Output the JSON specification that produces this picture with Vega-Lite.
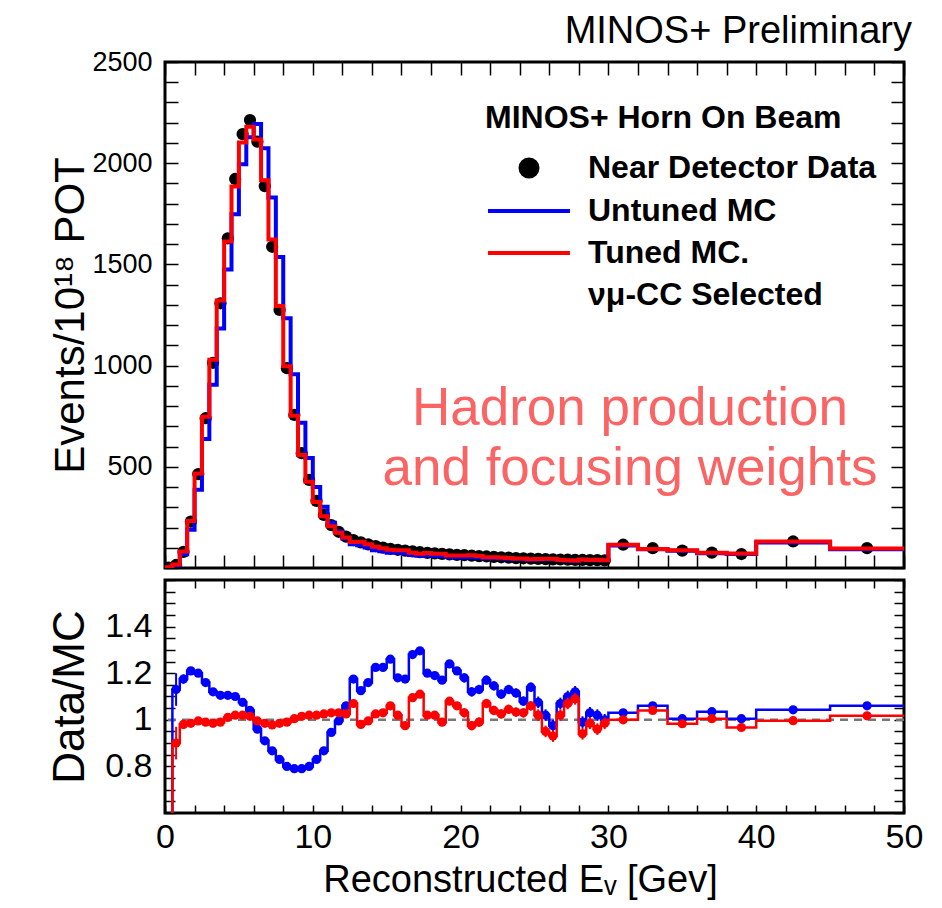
{
  "$schema": "https://vega.github.io/schema/vega-lite/v6.json",
  "autosize": "none",
  "padding": {"left": 165, "top": 62, "right": 777, "bottom": 846},
  "background": "white",
  "spacing": 12,
  "bounds": "flush",
  "datasets": {
    "bins": [
      {"lo":0,"hi":0.5,"c":0.25,"d":2,"u":3.6,"t":4,"rb":0.55,"rr":0.5,"e":0.1},
      {"lo":0.5,"hi":1,"c":0.75,"d":15,"u":13.3,"t":16.7,"rb":1.13,"rr":0.9,"e":0.07},
      {"lo":1,"hi":1.5,"c":1.25,"d":80,"u":68.1,"t":81.6,"rb":1.175,"rr":0.98,"e":0.02},
      {"lo":1.5,"hi":2,"c":1.75,"d":229,"u":189.3,"t":232.5,"rb":1.21,"rr":0.985,"e":0.005},
      {"lo":2,"hi":2.5,"c":2.25,"d":464,"u":386.7,"t":466.3,"rb":1.2,"rr":0.995,"e":0.005},
      {"lo":2.5,"hi":3,"c":2.75,"d":740,"u":637.9,"t":747.5,"rb":1.16,"rr":0.99,"e":0.005},
      {"lo":3,"hi":3.5,"c":3.25,"d":1014,"u":905.4,"t":1029.4,"rb":1.12,"rr":0.985,"e":0.005},
      {"lo":3.5,"hi":4,"c":3.75,"d":1308,"u":1183.7,"t":1321.2,"rb":1.105,"rr":0.99,"e":0.005},
      {"lo":4,"hi":4.5,"c":4.25,"d":1629,"u":1474.2,"t":1612.9,"rb":1.105,"rr":1.01,"e":0.005},
      {"lo":4.5,"hi":5,"c":4.75,"d":1922,"u":1747.3,"t":1884.3,"rb":1.1,"rr":1.02,"e":0.005},
      {"lo":5,"hi":5.5,"c":5.25,"d":2144,"u":1994.4,"t":2102,"rb":1.075,"rr":1.02,"e":0.005},
      {"lo":5.5,"hi":6,"c":5.75,"d":2213,"u":2127.9,"t":2180.3,"rb":1.04,"rr":1.015,"e":0.005},
      {"lo":6,"hi":6.5,"c":6.25,"d":2106,"u":2193.8,"t":2116.6,"rb":0.96,"rr":0.995,"e":0.005},
      {"lo":6.5,"hi":7,"c":6.75,"d":1887,"u":2073.6,"t":1915.7,"rb":0.91,"rr":0.985,"e":0.005},
      {"lo":7,"hi":7.5,"c":7.25,"d":1587,"u":1830.4,"t":1622.7,"rb":0.867,"rr":0.978,"e":0.005},
      {"lo":7.5,"hi":8,"c":7.75,"d":1275,"u":1536.1,"t":1294.4,"rb":0.83,"rr":0.985,"e":0.005},
      {"lo":8,"hi":8.5,"c":8.25,"d":987,"u":1233.8,"t":997,"rb":0.8,"rr":0.99,"e":0.005},
      {"lo":8.5,"hi":9,"c":8.75,"d":756,"u":957,"t":752.2,"rb":0.79,"rr":1.005,"e":0.005},
      {"lo":9,"hi":9.5,"c":9.25,"d":567,"u":717.7,"t":558.6,"rb":0.79,"rr":1.015,"e":0.005},
      {"lo":9.5,"hi":10,"c":9.75,"d":435,"u":543.8,"t":426.5,"rb":0.8,"rr":1.02,"e":0.005},
      {"lo":10,"hi":10.5,"c":10.25,"d":332,"u":400,"t":325.5,"rb":0.83,"rr":1.02,"e":0.005},
      {"lo":10.5,"hi":11,"c":10.75,"d":262,"u":302.2,"t":255.6,"rb":0.867,"rr":1.025,"e":0.005},
      {"lo":11,"hi":11.5,"c":11.25,"d":212,"u":224.1,"t":205.8,"rb":0.946,"rr":1.03,"e":0.005},
      {"lo":11.5,"hi":12,"c":11.75,"d":179,"u":179.9,"t":173.8,"rb":0.995,"rr":1.03,"e":0.01},
      {"lo":12,"hi":12.5,"c":12.25,"d":155,"u":146.2,"t":151.2,"rb":1.06,"rr":1.025,"e":0.015},
      {"lo":12.5,"hi":13,"c":12.75,"d":138,"u":117.4,"t":129,"rb":1.175,"rr":1.07,"e":0.015},
      {"lo":13,"hi":13.5,"c":13.25,"d":127,"u":112.9,"t":129.6,"rb":1.125,"rr":0.98,"e":0.015},
      {"lo":13.5,"hi":14,"c":13.75,"d":117,"u":100.9,"t":117.6,"rb":1.16,"rr":0.995,"e":0.015},
      {"lo":14,"hi":14.5,"c":14.25,"d":108,"u":88.2,"t":105.4,"rb":1.225,"rr":1.025,"e":0.015},
      {"lo":14.5,"hi":15,"c":14.75,"d":101,"u":82.4,"t":98.1,"rb":1.225,"rr":1.03,"e":0.015},
      {"lo":15,"hi":15.5,"c":15.25,"d":95,"u":75.4,"t":89.6,"rb":1.26,"rr":1.06,"e":0.015},
      {"lo":15.5,"hi":16,"c":15.75,"d":90,"u":76.3,"t":88.2,"rb":1.18,"rr":1.02,"e":0.015},
      {"lo":16,"hi":16.5,"c":16.25,"d":86,"u":73.2,"t":88.2,"rb":1.175,"rr":0.975,"e":0.015},
      {"lo":16.5,"hi":17,"c":16.75,"d":82,"u":64.1,"t":74.9,"rb":1.28,"rr":1.095,"e":0.015},
      {"lo":17,"hi":17.5,"c":17.25,"d":78,"u":60.2,"t":70.3,"rb":1.296,"rr":1.11,"e":0.015},
      {"lo":17.5,"hi":18,"c":17.75,"d":75,"u":62.5,"t":73.5,"rb":1.2,"rr":1.02,"e":0.015},
      {"lo":18,"hi":18.5,"c":18.25,"d":72,"u":60.5,"t":70.6,"rb":1.19,"rr":1.02,"e":0.015},
      {"lo":18.5,"hi":19,"c":18.75,"d":70,"u":59.8,"t":70.7,"rb":1.17,"rr":0.99,"e":0.015},
      {"lo":19,"hi":19.5,"c":19.25,"d":67,"u":54,"t":62,"rb":1.24,"rr":1.08,"e":0.015},
      {"lo":19.5,"hi":20,"c":19.75,"d":65,"u":53.7,"t":61.3,"rb":1.21,"rr":1.06,"e":0.015},
      {"lo":20,"hi":20.5,"c":20.25,"d":63,"u":53.4,"t":61.2,"rb":1.18,"rr":1.03,"e":0.02},
      {"lo":20.5,"hi":21,"c":20.75,"d":61,"u":54.5,"t":62.6,"rb":1.12,"rr":0.975,"e":0.02},
      {"lo":21,"hi":21.5,"c":21.25,"d":59,"u":52.2,"t":59.6,"rb":1.13,"rr":0.99,"e":0.02},
      {"lo":21.5,"hi":22,"c":21.75,"d":57,"u":48.7,"t":53.3,"rb":1.17,"rr":1.07,"e":0.02},
      {"lo":22,"hi":22.5,"c":22.25,"d":55,"u":48,"t":52.9,"rb":1.146,"rr":1.04,"e":0.02},
      {"lo":22.5,"hi":23,"c":22.75,"d":53,"u":47.7,"t":51.7,"rb":1.11,"rr":1.025,"e":0.02},
      {"lo":23,"hi":23.5,"c":23.25,"d":51,"u":45.1,"t":48.8,"rb":1.13,"rr":1.045,"e":0.02},
      {"lo":23.5,"hi":24,"c":23.75,"d":49,"u":43.9,"t":47.4,"rb":1.115,"rr":1.033,"e":0.02},
      {"lo":24,"hi":24.5,"c":24.25,"d":48,"u":44.4,"t":46.6,"rb":1.08,"rr":1.03,"e":0.02},
      {"lo":24.5,"hi":25,"c":24.75,"d":46,"u":40.4,"t":43.4,"rb":1.14,"rr":1.06,"e":0.02},
      {"lo":25,"hi":25.5,"c":25.25,"d":45,"u":41.9,"t":44.1,"rb":1.075,"rr":1.02,"e":0.025},
      {"lo":25.5,"hi":26,"c":25.75,"d":44,"u":43.1,"t":46.3,"rb":1.02,"rr":0.95,"e":0.025},
      {"lo":26,"hi":26.5,"c":26.25,"d":43,"u":44.1,"t":46.2,"rb":0.975,"rr":0.93,"e":0.025},
      {"lo":26.5,"hi":27,"c":26.75,"d":42,"u":39.3,"t":41.2,"rb":1.07,"rr":1.02,"e":0.025},
      {"lo":27,"hi":27.5,"c":27.25,"d":41,"u":37.3,"t":38.3,"rb":1.1,"rr":1.07,"e":0.025},
      {"lo":27.5,"hi":28,"c":27.75,"d":40,"u":35.7,"t":36.7,"rb":1.12,"rr":1.09,"e":0.025},
      {"lo":28,"hi":28.5,"c":28.25,"d":40,"u":40.4,"t":42.6,"rb":0.99,"rr":0.94,"e":0.025},
      {"lo":28.5,"hi":29,"c":28.75,"d":39,"u":37.9,"t":39.6,"rb":1.03,"rr":0.985,"e":0.025},
      {"lo":29,"hi":29.5,"c":29.25,"d":39,"u":38.2,"t":40.6,"rb":1.02,"rr":0.96,"e":0.025},
      {"lo":29.5,"hi":30,"c":29.75,"d":38,"u":38,"t":38.6,"rb":1,"rr":0.985,"e":0.025},
      {"lo":30,"hi":32,"c":31,"d":115,"u":111.7,"t":115,"rb":1.03,"rr":1,"e":0.012},
      {"lo":32,"hi":34,"c":33,"d":98,"u":92.5,"t":94.2,"rb":1.06,"rr":1.04,"e":0.012},
      {"lo":34,"hi":36,"c":35,"d":86,"u":85.6,"t":87.5,"rb":1.005,"rr":0.983,"e":0.012},
      {"lo":36,"hi":38,"c":37,"d":76,"u":73.4,"t":75.6,"rb":1.035,"rr":1.005,"e":0.012},
      {"lo":38,"hi":40,"c":39,"d":69,"u":68.7,"t":71.4,"rb":1.005,"rr":0.967,"e":0.012},
      {"lo":40,"hi":45,"c":42.5,"d":131,"u":125.6,"t":131.5,"rb":1.043,"rr":0.996,"e":0.012},
      {"lo":45,"hi":50,"c":47.5,"d":98,"u":92.5,"t":96.4,"rb":1.06,"rr":1.017,"e":0.012}
    ]
  },
  "vconcat": [
    {
      "width": 739,
      "height": 506,
      "title": {"text": "MINOS+ Preliminary", "anchor": "end", "frame": "group", "fontSize": 38, "fontWeight": "normal", "font": "Liberation Sans", "color": "black", "offset": -3, "dx": 8},
      "data": {"name": "bins"},
      "resolve": {"axis": {"x": "independent", "y": "independent"}},
      "layer": [
        {
          "mark": {"type": "point", "filled": true, "size": 150, "opacity": 1, "clip": true},
          "encoding": {
            "x": {"field": "c", "type": "quantitative", "scale": {"domain": [0, 50], "nice": false, "zero": false}, "axis": null},
            "y": {"field": "d", "type": "quantitative", "scale": {"domain": [0, 2500], "nice": false}, "axis": null},
            "color": {
              "datum": "Near Detector Data", "type": "nominal",
              "scale": {"domain": ["Near Detector Data", "Untuned MC", "Tuned MC.", "νμ-CC Selected"], "range": ["black", "#0000ff", "#ff0000", "white"]},
              "legend": {
                "orient": "none", "legendX": 320, "legendY": 41, "padding": 0,
                "title": "MINOS+ Horn On Beam", "titleFontSize": 32, "titleFontWeight": "bold", "titleFont": "Liberation Sans", "titleColor": "black", "titleLimit": 1000, "titlePadding": 17,
                "labelFontSize": 32, "labelFontWeight": "bold", "labelFont": "Liberation Sans", "labelColor": "black", "labelLimit": 1000, "labelOffset": 43,
                "rowPadding": 10, "symbolSize": 289,
                "encode": {
                  "title": {"update": {"dx": {"value": -28}}},
                  "symbols": {"update": {
                    "shape": {"signal": "datum.value === 'Near Detector Data' ? 'circle' : 'M-4.82,0H4.82'"},
                    "size": {"value": 289},
                    "fill": {"signal": "datum.value === 'Near Detector Data' ? 'black' : 'transparent'"},
                    "stroke": {"signal": "datum.value === 'Untuned MC' ? '#0000ff' : datum.value === 'Tuned MC.' ? '#ff0000' : 'transparent'"},
                    "strokeWidth": {"value": 4},
                    "opacity": {"value": 1}
                  }}
                }
              }
            }
          }
        },
        {
          "transform": [{"fold": ["lo", "hi"], "as": ["k", "edge"]}],
          "mark": {"type": "line", "strokeWidth": 4, "clip": true},
          "encoding": {
            "x": {"field": "edge", "type": "quantitative", "scale": {"domain": [0, 50], "nice": false, "zero": false},
              "axis": {"orient": "bottom", "values": [0,2,4,6,8,10,12,14,16,18,20,22,24,26,28,30,32,34,36,38,40,42,44,46,48,50], "labels": false, "title": null, "tickSize": -13,
                "encode": {"ticks": {"update": {"y2": {"signal": "datum.value % 10 === 0 ? -26 : -13"}}}}}},
            "y": {"field": "u", "type": "quantitative", "scale": {"domain": [0, 2500], "nice": false},
              "axis": {"orient": "left", "values": [0,100,200,300,400,500,600,700,800,900,1000,1100,1200,1300,1400,1500,1600,1700,1800,1900,2000,2100,2200,2300,2400,2500],
                "format": "d", "labelExpr": "datum.value % 500 === 0 && datum.value > 0 ? datum.label : ''",
                "tickSize": -13, "labelPadding": 26, "labelFontSize": 27,
                "title": "Events/10¹⁸ POT", "titleFontSize": 42, "titleX": -95, "titleY": 253, "titleBaseline": "middle", "titleAngle": -90,
                "encode": {"ticks": {"update": {"x2": {"signal": "datum.value % 500 === 0 ? 26 : 13"}}}}}},
            "order": [{"field": "edge", "type": "quantitative"}, {"field": "k", "type": "nominal"}],
            "color": {"datum": "Untuned MC", "type": "nominal",
              "legend": {
                "orient": "none", "legendX": 320, "legendY": 41, "padding": 0,
                "title": "MINOS+ Horn On Beam", "titleFontSize": 32, "titleFontWeight": "bold", "titleFont": "Liberation Sans", "titleColor": "black", "titleLimit": 1000, "titlePadding": 17,
                "labelFontSize": 32, "labelFontWeight": "bold", "labelFont": "Liberation Sans", "labelColor": "black", "labelLimit": 1000, "labelOffset": 43,
                "rowPadding": 10, "symbolSize": 289,
                "encode": {
                  "title": {"update": {"dx": {"value": -28}}},
                  "symbols": {"update": {
                    "shape": {"signal": "datum.value === 'Near Detector Data' ? 'circle' : 'M-4.82,0H4.82'"},
                    "size": {"value": 289},
                    "fill": {"signal": "datum.value === 'Near Detector Data' ? 'black' : 'transparent'"},
                    "stroke": {"signal": "datum.value === 'Untuned MC' ? '#0000ff' : datum.value === 'Tuned MC.' ? '#ff0000' : 'transparent'"},
                    "strokeWidth": {"value": 4},
                    "opacity": {"value": 1}
                  }}
                }
              }}
          }
        },
        {
          "transform": [{"fold": ["lo", "hi"], "as": ["k", "edge"]}],
          "mark": {"type": "line", "strokeWidth": 4, "clip": true},
          "encoding": {
            "x": {"field": "edge", "type": "quantitative", "scale": {"domain": [0, 50], "nice": false, "zero": false},
              "axis": {"orient": "top", "values": [0,2,4,6,8,10,12,14,16,18,20,22,24,26,28,30,32,34,36,38,40,42,44,46,48,50], "labels": false, "title": null, "tickSize": -13,
                "encode": {"ticks": {"update": {"y2": {"signal": "datum.value % 10 === 0 ? 26 : 13"}}}}}},
            "y": {"field": "t", "type": "quantitative", "scale": {"domain": [0, 2500], "nice": false},
              "axis": {"orient": "right", "values": [0,100,200,300,400,500,600,700,800,900,1000,1100,1200,1300,1400,1500,1600,1700,1800,1900,2000,2100,2200,2300,2400,2500],
                "labels": false, "title": null, "tickSize": -13,
                "encode": {"ticks": {"update": {"x2": {"signal": "datum.value % 500 === 0 ? -26 : -13"}}}}}},
            "order": [{"field": "edge", "type": "quantitative"}, {"field": "k", "type": "nominal"}],
            "color": {"datum": "Tuned MC.", "type": "nominal",
              "legend": {
                "orient": "none", "legendX": 320, "legendY": 41, "padding": 0,
                "title": "MINOS+ Horn On Beam", "titleFontSize": 32, "titleFontWeight": "bold", "titleFont": "Liberation Sans", "titleColor": "black", "titleLimit": 1000, "titlePadding": 17,
                "labelFontSize": 32, "labelFontWeight": "bold", "labelFont": "Liberation Sans", "labelColor": "black", "labelLimit": 1000, "labelOffset": 43,
                "rowPadding": 10, "symbolSize": 289,
                "encode": {
                  "title": {"update": {"dx": {"value": -28}}},
                  "symbols": {"update": {
                    "shape": {"signal": "datum.value === 'Near Detector Data' ? 'circle' : 'M-4.82,0H4.82'"},
                    "size": {"value": 289},
                    "fill": {"signal": "datum.value === 'Near Detector Data' ? 'black' : 'transparent'"},
                    "stroke": {"signal": "datum.value === 'Untuned MC' ? '#0000ff' : datum.value === 'Tuned MC.' ? '#ff0000' : 'transparent'"},
                    "strokeWidth": {"value": 4},
                    "opacity": {"value": 1}
                  }}
                }
              }}
          }
        },
        {
          "data": {"values": [{}]},
          "mark": {"type": "text", "text": ["Hadron production", "and focusing weights"], "fontSize": 53, "font": "Liberation Sans", "color": "#fa6464", "align": "center", "baseline": "middle", "lineHeight": 60},
          "encoding": {
            "x": {"datum": 31.46, "type": "quantitative", "scale": {"domain": [0, 50], "nice": false, "zero": false}, "axis": null},
            "y": {"datum": 785, "type": "quantitative", "scale": {"domain": [0, 2500], "nice": false}, "axis": null}
          }
        }
      ]
    },
    {
      "width": 739,
      "height": 233,
      "data": {"name": "bins"},
      "resolve": {"axis": {"x": "independent", "y": "independent"}},
      "layer": [
        {
          "data": {"values": [{}]},
          "mark": {"type": "rule", "strokeDash": [8, 6], "color": "#777777", "strokeWidth": 2.5},
          "encoding": {
            "y": {"datum": 1, "type": "quantitative", "scale": {"domain": [0.6, 1.6], "nice": false, "zero": false}, "axis": null}
          }
        },
        {
          "transform": [{"fold": ["lo", "hi"], "as": ["k", "edge"]}],
          "mark": {"type": "line", "strokeWidth": 2.5, "color": "#0000ff", "clip": true},
          "encoding": {
            "x": {"field": "edge", "type": "quantitative", "scale": {"domain": [0, 50], "nice": false, "zero": false},
              "axis": {"orient": "bottom", "values": [0,2,4,6,8,10,12,14,16,18,20,22,24,26,28,30,32,34,36,38,40,42,44,46,48,50],
                "format": "d", "labelExpr": "datum.value % 10 === 0 ? datum.label : ''", "labelFontSize": 34, "labelPadding": 15, "tickSize": -8,
                "title": "Reconstructed Eᵥ [Gev]", "titleFontSize": 38, "titleX": 355, "titleY": 67, "titleBaseline": "middle",
                "encode": {"ticks": {"update": {"y2": {"signal": "datum.value % 10 === 0 ? -15 : -8"}}}}}},
            "y": {"field": "rb", "type": "quantitative", "scale": {"domain": [0.6, 1.6], "nice": false, "zero": false},
              "axis": {"orient": "left", "values": [0.6,0.65,0.7,0.75,0.8,0.85,0.9,0.95,1,1.05,1.1,1.15,1.2,1.25,1.3,1.35,1.4,1.45,1.5,1.55,1.6],
                "labelExpr": "datum.value == 0.8 ? '0.8' : datum.value == 1 ? '1' : datum.value == 1.2 ? '1.2' : datum.value == 1.4 ? '1.4' : ''",
                "tickSize": -10, "labelPadding": 23, "labelFontSize": 34,
                "title": "Data/MC", "titleFontSize": 44, "titleX": -95, "titleY": 116.5, "titleBaseline": "middle", "titleAngle": -90,
                "encode": {"ticks": {"update": {"x2": {"signal": "abs(round(datum.value * 100)) % 20 === 0 ? 20 : 10"}}}}}},
            "order": [{"field": "edge", "type": "quantitative"}, {"field": "k", "type": "nominal"}]
          }
        },
        {
          "transform": [{"filter": "datum.c > 0.3"}],
          "mark": {"type": "errorbar", "color": "#0000ff", "thickness": 2},
          "encoding": {
            "x": {"field": "c", "type": "quantitative", "scale": {"domain": [0, 50], "nice": false, "zero": false}, "axis": null},
            "y": {"field": "rb", "type": "quantitative", "scale": {"domain": [0.6, 1.6], "nice": false, "zero": false}, "axis": null},
            "yError": {"field": "e"}
          }
        },
        {
          "transform": [{"filter": "datum.c > 0.3"}],
          "mark": {"type": "point", "filled": true, "size": 85, "opacity": 1, "color": "#0000ff", "clip": true},
          "encoding": {
            "x": {"field": "c", "type": "quantitative", "scale": {"domain": [0, 50], "nice": false, "zero": false}, "axis": null},
            "y": {"field": "rb", "type": "quantitative", "scale": {"domain": [0.6, 1.6], "nice": false, "zero": false}, "axis": null}
          }
        },
        {
          "transform": [{"fold": ["lo", "hi"], "as": ["k", "edge"]}],
          "mark": {"type": "line", "strokeWidth": 2.5, "color": "#ff0000", "clip": true},
          "encoding": {
            "x": {"field": "edge", "type": "quantitative", "scale": {"domain": [0, 50], "nice": false, "zero": false},
              "axis": {"orient": "top", "values": [0,2,4,6,8,10,12,14,16,18,20,22,24,26,28,30,32,34,36,38,40,42,44,46,48,50], "labels": false, "title": null, "tickSize": -8,
                "encode": {"ticks": {"update": {"y2": {"signal": "datum.value % 10 === 0 ? 15 : 8"}}}}}},
            "y": {"field": "rr", "type": "quantitative", "scale": {"domain": [0.6, 1.6], "nice": false, "zero": false},
              "axis": {"orient": "right", "values": [0.6,0.65,0.7,0.75,0.8,0.85,0.9,0.95,1,1.05,1.1,1.15,1.2,1.25,1.3,1.35,1.4,1.45,1.5,1.55,1.6],
                "labels": false, "title": null, "tickSize": -10,
                "encode": {"ticks": {"update": {"x2": {"signal": "abs(round(datum.value * 100)) % 20 === 0 ? -20 : -10"}}}}}},
            "order": [{"field": "edge", "type": "quantitative"}, {"field": "k", "type": "nominal"}]
          }
        },
        {
          "transform": [{"filter": "datum.c > 0.3"}],
          "mark": {"type": "errorbar", "color": "#ff0000", "thickness": 2},
          "encoding": {
            "x": {"field": "c", "type": "quantitative", "scale": {"domain": [0, 50], "nice": false, "zero": false}, "axis": null},
            "y": {"field": "rr", "type": "quantitative", "scale": {"domain": [0.6, 1.6], "nice": false, "zero": false}, "axis": null},
            "yError": {"field": "e"}
          }
        },
        {
          "transform": [{"filter": "datum.c > 0.3"}],
          "mark": {"type": "point", "filled": true, "size": 85, "opacity": 1, "color": "#ff0000", "clip": true},
          "encoding": {
            "x": {"field": "c", "type": "quantitative", "scale": {"domain": [0, 50], "nice": false, "zero": false}, "axis": null},
            "y": {"field": "rr", "type": "quantitative", "scale": {"domain": [0.6, 1.6], "nice": false, "zero": false}, "axis": null}
          }
        }
      ]
    }
  ],
  "config": {
    "font": "Liberation Sans",
    "view": {"stroke": "black", "strokeWidth": 3},
    "axis": {"domain": false, "grid": false, "tickColor": "black", "tickWidth": 1.5, "labelColor": "black", "titleColor": "black", "labelFont": "Liberation Sans", "titleFont": "Liberation Sans", "titleFontWeight": "normal", "labelOverlap": false, "labelFlush": false, "minExtent": 0}
  }
}
